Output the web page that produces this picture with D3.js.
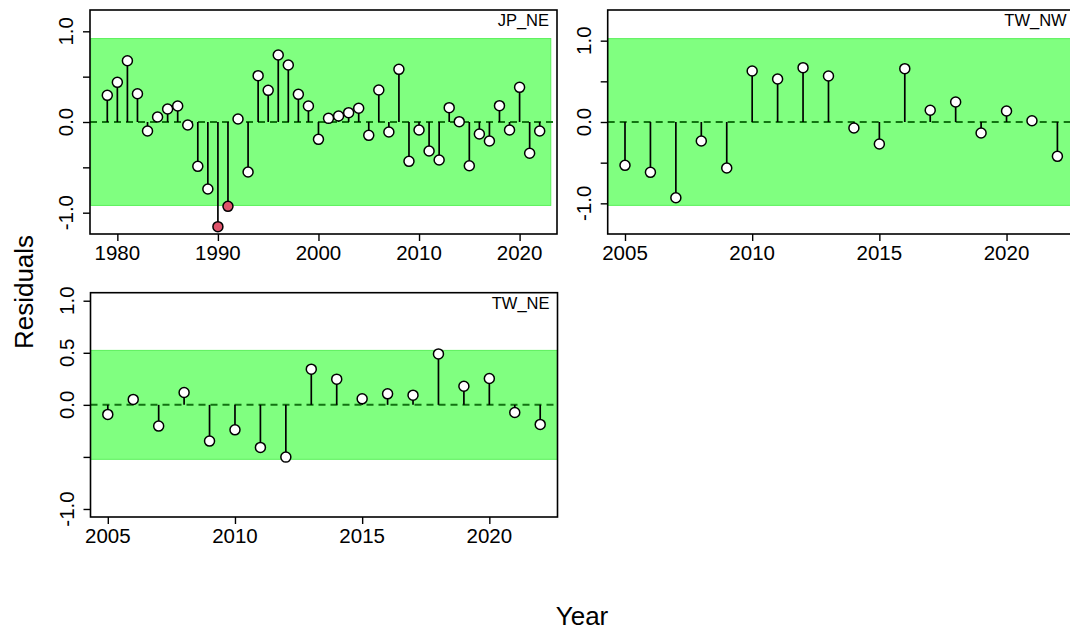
<!DOCTYPE html>
<html><head><meta charset="utf-8">
<script src="https://cdn.jsdelivr.net/npm/d3@7"></script>
<style>
html,body{margin:0;padding:0;background:#fff;overflow:hidden}
text{font-family:"Liberation Sans",Arial,sans-serif;fill:#000}
</style></head>
<body><svg id="c" width="1070" height="632"></svg>
<script>
// ---- data ----
const jpYears = d3.range(1979, 2023);
const jpResid = [0.294,0.437,0.676,0.312,-0.099,0.055,0.143,0.176,-0.033,-0.489,
  -0.739,-1.154,-0.930,0.033,-0.551,0.511,0.349,0.739,0.628,0.305,
  0.176,-0.191,0.040,0.066,0.103,0.151,-0.147,0.353,-0.110,0.581,
  -0.434,-0.088,-0.320,-0.419,0.158,0.004,-0.482,-0.132,-0.209,0.180,
  -0.088,0.382,-0.345,-0.099];
const jpOutliers = [1990, 1991];
const twnwYears = d3.range(2005, 2023);
const twnwResid = [-0.533,-0.619,-0.931,-0.234,-0.566,0.627,0.529,0.668,0.566,-0.074,
  -0.271,0.656,0.144,0.246,-0.135,0.135,0.016,-0.422];
const twneYears = d3.range(2005, 2023);
const twneResid = [-0.092,0.052,-0.204,0.119,-0.348,-0.240,-0.409,-0.502,0.343,0.247,
  0.058,0.106,0.093,0.489,0.179,0.253,-0.073,-0.188];
const panelNames = ["JP_NE","TW_NW","TW_NE"];
const bandHalf = [0.92, 1.025, 0.523];
const bandYears = [[1977.35, 2023.1], [2004.32, 2023.0], [2004.32, 2022.68]];
const yLimits = [1.235, 1.377, 1.077];
const xTicksJP = [1980,1990,2000,2010,2020];
const xTicksTW = [2005,2010,2015,2020];
const yTicks = [-1,-0.5,0,0.5,1];
const yTickLabels = [["1.0","0.0","-1.0"],["1.0","0.0","-1.0"],["1.0","0.5","0.0","-1.0"]];
const xTitle = "Year", yTitle = "Residuals";

// ---- layout ----
const boxes = [
  {left:90, top:10, w:467, h:224},
  {left:607.7, top:10, w:467, h:224},
  {left:90.5, top:292.7, w:467, h:224.3}
];
const panels = [
  {years:jpYears, vals:jpResid, xticks:xTicksJP, outl:jpOutliers},
  {years:twnwYears, vals:twnwResid, xticks:xTicksTW, outl:[]},
  {years:twneYears, vals:twneResid, xticks:xTicksTW, outl:[]}
];

const svg = d3.select("#c");
const fontTick = 20.5;
const fmt = t => (t < 0 ? "-" : "") + Math.abs(t).toFixed(1);

panels.forEach((p, i) => {
  const b = boxes[i];
  const ext = d3.extent(p.years);
  const pad = (ext[1]-ext[0])*0.04;
  const x = d3.scaleLinear().domain([ext[0]-pad, ext[1]+pad]).range([b.left, b.left+b.w]);
  const y = d3.scaleLinear().domain([-yLimits[i], yLimits[i]]).range([b.top+b.h, b.top]);
  const g = svg.append("g");

  // band
  g.append("rect")
    .attr("x", x(bandYears[i][0])).attr("width", x(bandYears[i][1]) - x(bandYears[i][0]))
    .attr("y", y(bandHalf[i])).attr("height", y(-bandHalf[i]) - y(bandHalf[i]))
    .attr("fill", "#80ff80").attr("stroke", "#5af05a").attr("stroke-width", 1);

  // zero line
  g.append("line")
    .attr("x1", x.range()[0]).attr("x2", x.range()[1])
    .attr("y1", y(0)).attr("y2", y(0))
    .attr("stroke", "#127312").attr("stroke-width", 2).attr("stroke-dasharray", "7,5");

  const data = p.years.map((yr, k) => ({yr, v:p.vals[k]}));
  g.selectAll("line.stem").data(data).enter().append("line")
    .attr("class","stem")
    .attr("x1", d => x(d.yr)).attr("x2", d => x(d.yr))
    .attr("y1", y(0)).attr("y2", d => y(d.v))
    .attr("stroke", "#000").attr("stroke-width", 1.7);
  g.selectAll("circle").data(data).enter().append("circle")
    .attr("cx", d => x(d.yr)).attr("cy", d => y(d.v)).attr("r", 5)
    .attr("fill", d => p.outl.includes(d.yr) ? "#df536b" : "#fff")
    .attr("stroke", "#000").attr("stroke-width", 1.5);

  // box
  g.append("rect").attr("x", b.left).attr("y", b.top).attr("width", b.w).attr("height", b.h)
    .attr("fill", "none").attr("stroke", "#000").attr("stroke-width", 1.6);

  // x axis
  const xa = g.append("g").attr("transform", `translate(0,${b.top+b.h})`)
    .call(d3.axisBottom(x).tickValues(p.xticks).tickFormat(d3.format("d")).tickSize(7).tickPadding(5));
  xa.select(".domain").remove();
  xa.selectAll(".tick line").attr("stroke","#000").attr("stroke-width",1.4);
  xa.selectAll(".tick text").remove();
  g.selectAll("text.xl").data(p.xticks).enter().append("text")
    .attr("class","xl").attr("x", d => x(d)).attr("y", b.top+b.h+26)
    .attr("text-anchor","middle").attr("font-size", fontTick).text(d => d);

  // y axis
  const ya = g.append("g").attr("transform", `translate(${b.left},0)`)
    .call(d3.axisLeft(y).tickValues(yTicks).tickSize(7));
  ya.select(".domain").remove();
  ya.selectAll(".tick line").attr("stroke","#000").attr("stroke-width",1.4);
  ya.selectAll(".tick text").remove();
  const shown = yTicks.filter(t => yTickLabels[i].includes(fmt(t)));
  g.selectAll("text.yl").data(shown).enter().append("text")
    .attr("class","yl")
    .attr("transform", d => `translate(${b.left-17},${y(d)}) rotate(-90)`)
    .attr("text-anchor","middle").attr("font-size", fontTick)
    .text(d => fmt(d));

  // panel name
  g.append("text").attr("x", b.left+b.w-8).attr("y", b.top+16)
    .attr("text-anchor","end").attr("font-size", 16.5).text(panelNames[i]);
});

svg.append("text").attr("x", 582).attr("y", 625).attr("text-anchor","middle")
  .attr("font-size", 26).text(xTitle);
svg.append("text").attr("transform","translate(33,292) rotate(-90)")
  .attr("text-anchor","middle").attr("font-size", 26).text(yTitle);
</script></body></html>
